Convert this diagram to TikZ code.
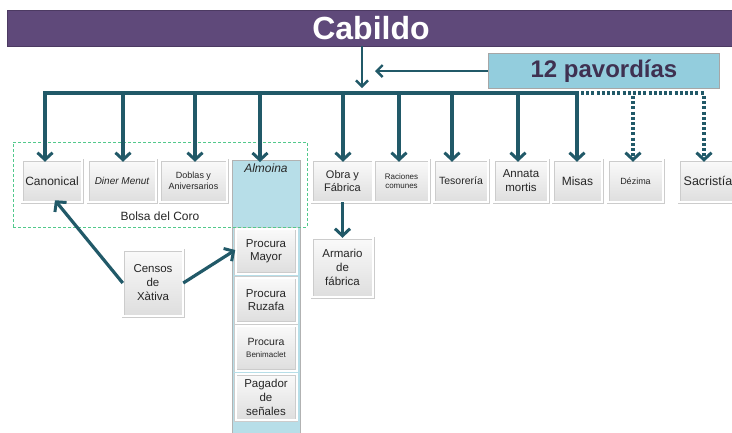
\documentclass[tikz,border=0pt]{standalone}
\usepackage{fontspec}
\setmainfont{Liberation Sans}
\usetikzlibrary{arrows.meta,shadows}
\definecolor{teal1}{HTML}{215968}
\definecolor{cabpurple}{HTML}{5F497A}
\definecolor{pavblue}{HTML}{93CDDD}
\definecolor{pavtext}{HTML}{3F3151}
\definecolor{almblue}{HTML}{B7DEE8}
\definecolor{bolsagreen}{HTML}{52C98C}
\newcommand\fsz[2]{\fontsize{#1}{#2}\selectfont}
\begin{document}
\begin{tikzpicture}[x=1pt,y=-1pt,
  boxst/.style={rectangle, draw=gray!40, line width=0.5pt, double=white, double distance=2pt,
     top color=gray!4, bottom color=gray!26,
     drop shadow={opacity=0.25, shadow xshift=1pt, shadow yshift=-1pt},
     align=center, inner sep=1pt, text=black!85, minimum height=42},
  conn/.style={draw=teal1, line width=3.2pt},
  arr/.style={conn, -{Straight Barb[length=7pt,width=15pt,line width=3pt]}},
  arrthin/.style={draw=teal1, line width=2.4pt, -{Straight Barb[length=6pt,width=12pt,line width=2.4pt]}},
  connd/.style={draw=teal1, line width=3.2pt, dash pattern=on 3pt off 2.2pt},
  arrd/.style={connd, -{Straight Barb[length=7pt,width=15pt,line width=3pt]}},
  bolsast/.style={draw=bolsagreen, line width=0.6pt, dash pattern=on 3pt off 2pt}]
\useasboundingbox (0,0) rectangle (732,432);
% Cabildo bar
\node[rectangle, fill=cabpurple, draw=cabpurple!80!black, line width=0.5pt,
  drop shadow={opacity=0.3, shadow xshift=1pt, shadow yshift=-1pt},
  minimum width=728, minimum height=36, text=white, font=\bfseries\fsz{32}{36}] (cab) at (371,28) {Cabildo};
% 12 pavordias
\node[rectangle, fill=pavblue, draw=gray!70, line width=0.6pt,
  minimum width=231, minimum height=35, text=pavtext, font=\bfseries\fsz{24}{28}] (pav) at (604,71) {12 pavordías};
% Almoina column
\node[rectangle, fill=almblue, draw=gray!60, line width=0.8pt, minimum width=68, minimum height=290, anchor=north,
  label={[anchor=north, yshift=-2pt, inner sep=2pt, font=\itshape\fsz{12}{14}, text=black!85]north:Almoina}] (alm) at (266,160) {};
% top-row boxes
\node[boxst, minimum width=60, font=\fsz{12}{14}] (can) at (52,181) {Canonical};
\node[boxst, minimum width=68, font=\itshape\fsz{10}{12}] (din) at (122,181) {Diner Menut};
\node[boxst, minimum width=67, font=\fsz{9}{11}] (dob) at (193.5,181) {Doblas y\\Aniversarios};
\node[boxst, minimum width=61, font=\fsz{11}{13.5}] (obra) at (342.5,181) {Obra y\\Fábrica};
\node[boxst, minimum width=55, font=\fsz{8}{9.5}] (rac) at (401.5,181) {Raciones\\comunes};
\node[boxst, minimum width=54, font=\fsz{10.5}{12}] (tes) at (461,181) {Tesorería};
\node[boxst, minimum width=54, font=\fsz{11.5}{14}] (ann) at (521,181) {Annata\\mortis};
\node[boxst, minimum width=49, font=\fsz{12}{14}] (mis) at (577.5,181) {Misas};
\node[boxst, minimum width=55, font=\fsz{9}{11}] (dez) at (635.5,181) {Dézima};
\node[boxst, minimum width=58, font=\fsz{12.5}{14}] (sac) at (708,181) {Sacristía};
% lower boxes
\node[boxst, minimum width=61, minimum height=59, font=\fsz{11.5}{14}] (arm) at (342.5,267.5) {Armario\\de\\fábrica};
\node[boxst, minimum width=60, minimum height=66, font=\fsz{11.5}{14}] (cen) at (153,283) {Censos\\de\\Xàtiva};
\node[boxst, minimum width=61, minimum height=45, font=\fsz{11.5}{13.5}] (pm) at (266,251) {Procura\\Mayor};
\node[boxst, minimum width=61, minimum height=45, font=\fsz{11.5}{13.5}] (pr) at (266,300) {Procura\\Ruzafa};
\node[boxst, minimum width=61, minimum height=45, align=center, font=\fsz{10.5}{12}] (pb) at (266,348) {Procura\\{\fsz{8}{10}Benimaclet}};
\node[boxst, minimum width=61, minimum height=46, font=\fsz{11.5}{14}] (ps) at (266,397) {Pagador\\de\\señales};
% Bolsa del Coro
\node[bolsast, rectangle, minimum width=294, minimum height=85] (bolsa) at (160,184.5) {};
\node[text=black!85, font=\fsz{12}{14}] (bolsalbl) at (160,216) {Bolsa del Coro};
% connectors
\coordinate (cx) at (362,88);
\coordinate (px) at (375,71);
\draw[arrthin] (cab.south -| cx) -- (cx);
\draw[arrthin] (pav.west) -- (px);
\coordinate (d1) at (45,93);
\coordinate (d2) at (123,93);
\coordinate (d3) at (195,93);
\coordinate (d4) at (260,93);
\coordinate (d5) at (343,93);
\coordinate (d6) at (399,93);
\coordinate (d7) at (452,93);
\coordinate (d8) at (518,93);
\coordinate (d9) at (577,93);
\coordinate (d10) at (633,93);
\coordinate (d11) at (704,93);
\draw[conn] ([xshift=-1.6pt]d1) -- ([xshift=1.6pt]d9);
\draw[connd] ([xshift=4pt]d9) -- ([xshift=1.6pt]d11);
\draw[arr] ([yshift=-1.6pt]d1) -- ([yshift=-2pt]d1 |- can.north);
\draw[arr] ([yshift=-1.6pt]d2) -- ([yshift=-2pt]d2 |- din.north);
\draw[arr] ([yshift=-1.6pt]d3) -- ([yshift=-2pt]d3 |- dob.north);
\draw[arr] ([yshift=-1.6pt]d4) -- ([yshift=-2pt]d4 |- alm.north);
\draw[arr] ([yshift=-1.6pt]d5) -- ([yshift=-2pt]d5 |- obra.north);
\draw[arr] ([yshift=-1.6pt]d6) -- ([yshift=-2pt]d6 |- rac.north);
\draw[arr] ([yshift=-1.6pt]d7) -- ([yshift=-2pt]d7 |- tes.north);
\draw[arr] ([yshift=-1.6pt]d8) -- ([yshift=-2pt]d8 |- ann.north);
\draw[arr] ([yshift=-1.6pt]d9) -- ([yshift=-2pt]d9 |- mis.north);
\draw[arrd] ([yshift=-3pt]d10) -- ([yshift=-2pt]d10 |- dez.north);
\draw[arrd] ([yshift=-3pt]d11) -- ([yshift=-2pt]d11 |- sac.north);
\draw[arr] (obra.south) -- (arm.north);
\draw[arr] (cen.west) -- ([xshift=3pt,yshift=2pt]can.south);
\draw[arr] (cen.east) -- ([yshift=1pt]pm.west);
\end{tikzpicture}
\end{document}
